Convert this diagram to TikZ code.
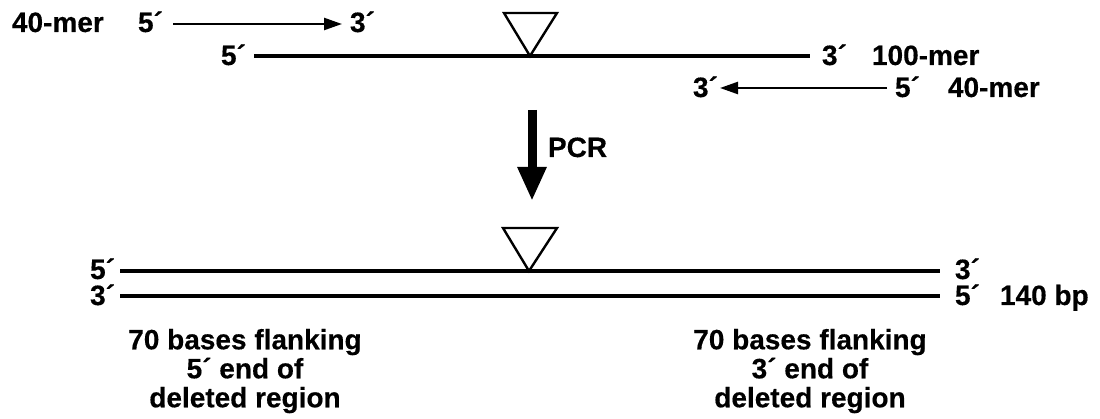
\documentclass[tikz,border=0pt]{standalone}
\usepackage{fontspec}
\setmainfont{Liberation Sans}[BoldFeatures={FakeBold=0.4}]
\usetikzlibrary{arrows.meta}
\tikzset{
  lbl/.style={font=\bfseries\fontsize{28}{29}\selectfont, inner sep=0pt, outer sep=0pt},
  strand/.style={line width=3.6pt},
  primer/.style={line width=2.4pt, -{Triangle[length=18pt,width=12pt]}},
  deltri/.style={line width=2.4pt, line join=miter},
  bigarrow/.style={line width=9pt, -{Triangle[length=34pt,width=27pt]}},
  block/.style={lbl, align=center, anchor=north}
}
\begin{document}
\begin{tikzpicture}[x=1pt,y=-1pt]
\useasboundingbox (0,0) rectangle (1100,419);
% row 1: top primer
\node[lbl, anchor=base west] (m40a) at (12,32) {40-mer};
\node[lbl, anchor=base west] (p5a) at (138,32) {5´};
\node[lbl, anchor=base west] (p3a) at (350,32) {3´};
\coordinate (a1s) at (173,24);
\coordinate (a1e) at (342,24);
\draw[primer] (a1s) -- (a1e);
% row 2: 100-mer
\node[lbl, anchor=base west] (p5b) at (221,65) {5´};
\node[lbl, anchor=base west] (p3b) at (822,65) {3´};
\node[lbl, anchor=base west] (m100) at (872,65) {100-mer};
\coordinate (l2s) at (254,56);
\coordinate (l2e) at (810,56);
\draw[strand] (l2s) -- (l2e);
\coordinate (t1a) at (504,13);
\coordinate (t1b) at (557,13);
\coordinate (t1c) at (530,56);
\draw[deltri] (t1a) -- (t1b) -- (t1c) -- cycle;
% row 3: bottom primer
\node[lbl, anchor=base west] (p3c) at (693,97) {3´};
\node[lbl, anchor=base west] (p5c) at (895,97) {5´};
\node[lbl, anchor=base west] (m40b) at (948,97) {40-mer};
\coordinate (a3s) at (887,88);
\coordinate (a3e) at (720,88);
\draw[primer] (a3s) -- (a3e);
% PCR arrow
\coordinate (pcrs) at (532,110);
\coordinate (pcre) at (532,201);
\draw[bigarrow] (pcrs) -- (pcre);
\node[lbl, anchor=base west] (pcr) at (548,157) {PCR};
% product
\coordinate (t2a) at (503,228);
\coordinate (t2b) at (557,228);
\coordinate (t2c) at (529,271);
\draw[deltri] (t2a) -- (t2b) -- (t2c) -- cycle;
\coordinate (l4s) at (120,271);
\coordinate (l4e) at (940,271);
\coordinate (l5s) at (120,296);
\coordinate (l5e) at (940,296);
\draw[strand] (l4s) -- (l4e);
\draw[strand] (l5s) -- (l5e);
\node[lbl, anchor=base east] (b5l) at (115,279) {5´};
\node[lbl, anchor=base east] (b3l) at (115,305) {3´};
\node[lbl, anchor=base west] (b3r) at (955,279) {3´};
\node[lbl, anchor=base west] (b5r) at (955,305) {5´};
\node[lbl, anchor=base west] (bp) at (1000,305) {140 bp};
\node[block] (left) at (245,329) {70 bases flanking\\5´ end of\\deleted region};
\node[block] (right) at (810,329) {70 bases flanking\\3´ end of\\deleted region};
\end{tikzpicture}
\end{document}
